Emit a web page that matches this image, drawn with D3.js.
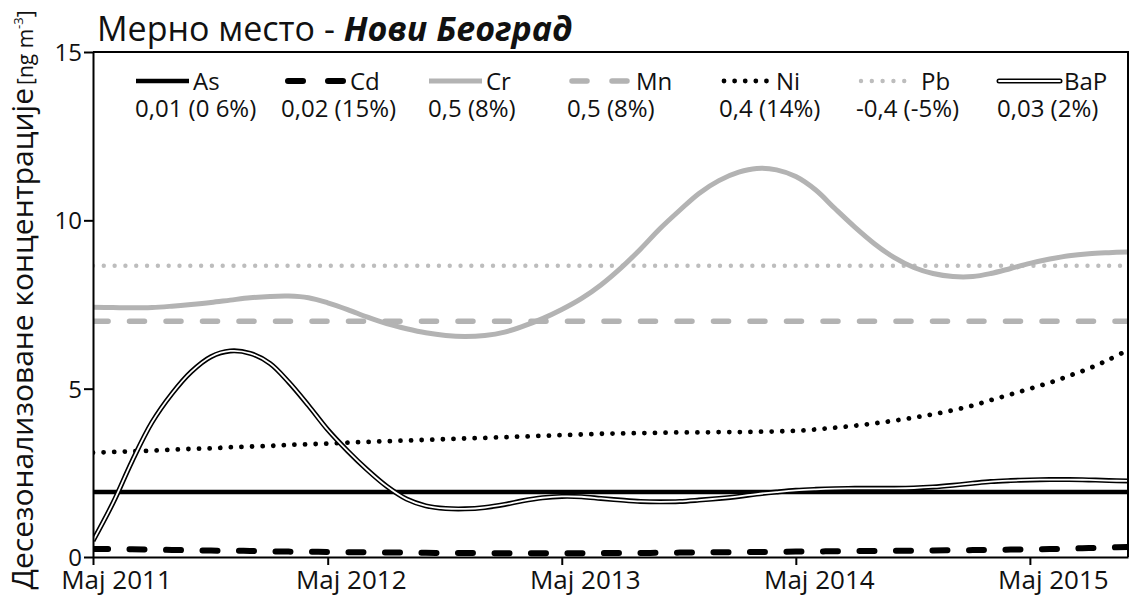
<!DOCTYPE html>
<html>
<head>
<meta charset="utf-8">
<script src="https://cdn.jsdelivr.net/npm/d3@7/dist/d3.min.js"></script>
<style>
  html, body { margin: 0; padding: 0; background: #fff; }
  svg { display: block; }
  text { font-family: "Open Sans", "Noto Sans", sans-serif; fill: #111; }
</style>
</head>
<body>
<svg id="chart" width="1132" height="603"></svg>
<script>
// Deseasonalised monthly concentrations, May 2011 – Oct 2015
const firstMonth = new Date(2011, 4, 1);
const lastMonth = new Date(2015, 9, 1);

const seriesNames = ["As", "Cd", "Cr", "Mn", "Ni", "Pb", "BaP"];
const trendLabels = ["0,01 (0 6%)", "0,02 (15%)", "0,5 (8%)", "0,5 (8%)", "0,4 (14%)", "-0,4 (-5%)", "0,03 (2%)"];

const asValues = [
  1.93,1.93,1.93,1.93,1.93,1.93,1.93,1.93,1.93,1.93,1.93,1.93,1.93,1.93,1.93,1.93,1.93,1.93,
  1.93,1.93,1.93,1.93,1.93,1.93,1.93,1.93,1.93,1.93,1.93,1.93,1.93,1.93,1.93,1.93,1.93,1.93,
  1.93,1.93,1.93,1.93,1.93,1.93,1.93,1.93,1.93,1.93,1.93,1.93,1.93,1.93,1.93,1.93,1.93,1.93
];
const cdValues = [
  0.24,0.235,0.23,0.22,0.21,0.20,0.19,0.185,0.18,0.17,0.16,0.155,0.15,0.145,0.14,0.135,0.13,0.125,
  0.12,0.12,0.115,0.115,0.11,0.11,0.11,0.11,0.115,0.12,0.12,0.125,0.13,0.135,0.14,0.145,0.15,0.155,
  0.16,0.165,0.17,0.175,0.18,0.185,0.19,0.195,0.20,0.205,0.21,0.22,0.225,0.235,0.25,0.265,0.28,0.30
];
const crValues = [
  7.42,7.41,7.40,7.41,7.45,7.50,7.56,7.63,7.70,7.74,7.75,7.70,7.55,7.35,7.13,6.93,6.78,6.66,
  6.58,6.55,6.58,6.68,6.85,7.08,7.35,7.68,8.08,8.58,9.15,9.75,10.30,10.80,11.18,11.43,11.54,11.50,
  11.30,10.90,10.35,9.80,9.30,8.90,8.60,8.42,8.33,8.33,8.42,8.57,8.72,8.85,8.95,9.01,9.04,9.06
];
const mnValues = [
  7.0,7.0,7.0,7.0,7.0,7.0,7.0,7.0,7.0,7.0,7.0,7.0,7.0,7.0,7.0,7.0,7.0,7.0,
  7.0,7.0,7.0,7.0,7.0,7.0,7.0,7.0,7.0,7.0,7.0,7.0,7.0,7.0,7.0,7.0,7.0,7.0,
  7.0,7.0,7.0,7.0,7.0,7.0,7.0,7.0,7.0,7.0,7.0,7.0,7.0,7.0,7.0,7.0,7.0,7.0
];
const niValues = [
  3.10,3.12,3.14,3.16,3.19,3.21,3.23,3.26,3.28,3.30,3.33,3.35,3.37,3.40,3.42,3.44,3.46,3.48,
  3.50,3.52,3.54,3.56,3.58,3.60,3.62,3.64,3.66,3.67,3.68,3.69,3.70,3.70,3.71,3.71,3.72,3.73,
  3.75,3.79,3.84,3.90,3.97,4.05,4.14,4.24,4.36,4.50,4.66,4.83,5.00,5.18,5.38,5.60,5.86,6.15
];
const pbValues = [
  8.65,8.65,8.65,8.65,8.65,8.65,8.65,8.65,8.65,8.65,8.65,8.65,8.65,8.65,8.65,8.65,8.65,8.65,
  8.65,8.65,8.65,8.65,8.65,8.65,8.65,8.65,8.65,8.65,8.65,8.65,8.65,8.65,8.65,8.65,8.65,8.65,
  8.65,8.65,8.65,8.65,8.65,8.65,8.65,8.65,8.65,8.65,8.65,8.65,8.65,8.65,8.65,8.65,8.65,8.65
];
const bapValues = [
  0.48,1.60,2.85,4.00,4.85,5.50,5.95,6.12,6.05,5.75,5.20,4.50,3.78,3.15,2.60,2.10,1.72,1.52,
  1.44,1.43,1.47,1.56,1.67,1.76,1.80,1.79,1.74,1.69,1.65,1.64,1.65,1.69,1.74,1.80,1.87,1.93,
  1.98,2.01,2.03,2.04,2.04,2.04,2.05,2.08,2.13,2.19,2.24,2.27,2.29,2.30,2.30,2.29,2.27,2.26
];

const yTickValues = [0, 5, 10, 15];
const xTickLabels = ["Maj 2011", "Maj 2012", "Maj 2013", "Maj 2014", "Maj 2015"];

// ---- layout ----
const svg = d3.select("#chart");
const W = 1132, H = 603;
const plotLeft = 93, plotRight = 1128, plotTop = 52, plotBottom = 557;
const grey = "#b3b3b3";

svg.append("rect").attr("width", W).attr("height", H).attr("fill", "#fff");

const months = d3.timeMonth.range(firstMonth, d3.timeMonth.offset(lastMonth, 1));
const x = d3.scaleTime().domain([firstMonth, lastMonth]).range([plotLeft, plotRight]);
const y = d3.scaleLinear().domain([0, 15]).range([plotBottom, plotTop]);

// line styles for each series
const styles = {
  As:  { color: "#000", width: 4.5, dash: null, cap: "butt" },
  Cd:  { color: "#000", width: 6, dash: "15,21.5", cap: "round" },
  Cr:  { color: grey, width: 5, dash: null, cap: "butt" },
  Mn:  { color: grey, width: 5.5, dash: "15,21.5", cap: "round" },
  Ni:  { color: "#000", width: 4.8, dash: "0.01,10.6", cap: "round" },
  Pb:  { color: "#bdbdbd", width: 4.4, dash: "0.01,10.8", cap: "round" },
  BaP: { color: "#000", width: 5, dash: null, cap: "butt", double: true }
};

const valuesByName = { As: asValues, Cd: cdValues, Cr: crValues, Mn: mnValues, Ni: niValues, Pb: pbValues, BaP: bapValues };

const line = d3.line()
  .x(d => x(d.date))
  .y(d => y(d.value))
  .curve(d3.curveCatmullRom.alpha(0.5));

const drawOrder = ["Pb", "Mn", "Cr", "Ni", "As", "Cd", "BaP"];

const plot = svg.append("g");
plot.append("clipPath").attr("id", "plot-clip")
  .append("rect").attr("x", plotLeft).attr("y", plotTop).attr("width", plotRight - plotLeft).attr("height", plotBottom - plotTop);

const lines = plot.append("g").attr("clip-path", "url(#plot-clip)");
drawOrder.forEach(name => {
  const st = styles[name];
  const data = months.map((d, i) => ({ date: d, value: valuesByName[name][i] }));
  const p = lines.append("path")
    .datum(data)
    .attr("d", line)
    .attr("fill", "none")
    .attr("stroke", st.color)
    .attr("stroke-width", st.width)
    .attr("stroke-linecap", st.cap)
    .attr("stroke-linejoin", "round");
  if (st.dash) p.attr("stroke-dasharray", st.dash);
  if (st.double) {
    lines.append("path")
      .datum(data)
      .attr("d", line)
      .attr("fill", "none")
      .attr("stroke", "#fff")
      .attr("stroke-width", 1.8);
  }
});

// ---- axes ----
const xTicks = d3.timeYear.range(new Date(2011, 0, 1), new Date(2016, 0, 1)).map(d => new Date(d.getFullYear(), 4, 1));
const xAxis = d3.axisBottom(x)
  .tickValues(xTicks)
  .tickSize(8)
  .tickSizeOuter(0)
  .tickFormat((d, i) => xTickLabels[i]);

const gx = svg.append("g").attr("transform", `translate(0,${plotBottom})`).call(xAxis);
gx.select(".domain").attr("stroke", "#000").attr("stroke-width", 2);
gx.selectAll(".tick line").attr("stroke", "#000").attr("stroke-width", 2);
gx.selectAll(".tick text")
  .attr("y", 32).attr("dy", 0).attr("dx", 23)
  .attr("font-size", 26).attr("font-family", "Open Sans").attr("fill", "#111");

const yAxis = d3.axisLeft(y).tickValues(yTickValues).tickSize(9).tickSizeOuter(0);
const gy = svg.append("g").attr("transform", `translate(${plotLeft},0)`).call(yAxis);
gy.select(".domain").attr("stroke", "#000").attr("stroke-width", 2);
gy.selectAll(".tick line").attr("stroke", "#000").attr("stroke-width", 2);
gy.selectAll(".tick text")
  .attr("x", -11).attr("dy", "0.35em")
  .attr("font-size", 24).attr("font-family", "Open Sans").attr("fill", "#111");

// remaining frame sides
svg.append("line").attr("x1", plotLeft).attr("x2", plotRight).attr("y1", plotTop).attr("y2", plotTop)
  .attr("stroke", "#000").attr("stroke-width", 2);
svg.append("line").attr("x1", plotRight).attr("x2", plotRight).attr("y1", plotTop - 1).attr("y2", plotBottom)
  .attr("stroke", "#000").attr("stroke-width", 2);

// ---- title ----
const title = svg.append("text").attr("x", 97).attr("y", 41).attr("font-size", 34);
title.append("tspan").text("Мерно место - ");
title.append("tspan").attr("font-weight", "bold").attr("font-style", "italic").text("Нови Београд");

// ---- y axis title ----
const yTitle = svg.append("text")
  .attr("transform", "translate(33,300) rotate(-90)")
  .attr("text-anchor", "middle");
yTitle.append("tspan").attr("font-size", 30).text("Десезонализоване концентрације");
yTitle.append("tspan").attr("font-size", 21).attr("dx", 3).text("[ng m");
yTitle.append("tspan").attr("font-size", 13).attr("dy", -10).text("-3");
yTitle.append("tspan").attr("font-size", 21).attr("dy", 10).text("]");

// ---- legend ----
const legendSymbolX = [136, 285, 429, 569, 721, 858, 999];
const legendNameX = [193, 350, 486, 636, 776, 921, 1064];
const legendValueX = [135, 281, 428, 567, 719, 856, 997];
const legendRowY = 81;

const legend = svg.append("g");
seriesNames.forEach((name, i) => {
  const st = styles[name];
  const x0 = legendSymbolX[i], x1 = legendNameX[i] - 4;
  const seg = legend.append("line")
    .attr("x1", x0 + (st.cap === "round" ? 3 : 0)).attr("x2", x1 - (st.cap === "round" ? 3 : 0))
    .attr("y1", legendRowY).attr("y2", legendRowY)
    .attr("stroke", st.color).attr("stroke-width", st.width)
    .attr("stroke-linecap", st.double ? "round" : st.cap);
  if (st.dash) seg.attr("stroke-dasharray", name === "Cd" || name === "Mn" ? "15,25" : st.dash);
  if (st.double) {
    legend.append("line")
      .attr("x1", x0).attr("x2", x1)
      .attr("y1", legendRowY).attr("y2", legendRowY)
      .attr("stroke", "#fff").attr("stroke-width", 1.8).attr("stroke-linecap", "round");
  }
  legend.append("text").attr("x", legendNameX[i]).attr("y", legendRowY + 9)
    .attr("font-size", 24).text(name);
  legend.append("text").attr("x", legendValueX[i]).attr("y", legendRowY + 36)
    .attr("font-size", 24).text(trendLabels[i]);
});
</script>
</body>
</html>
